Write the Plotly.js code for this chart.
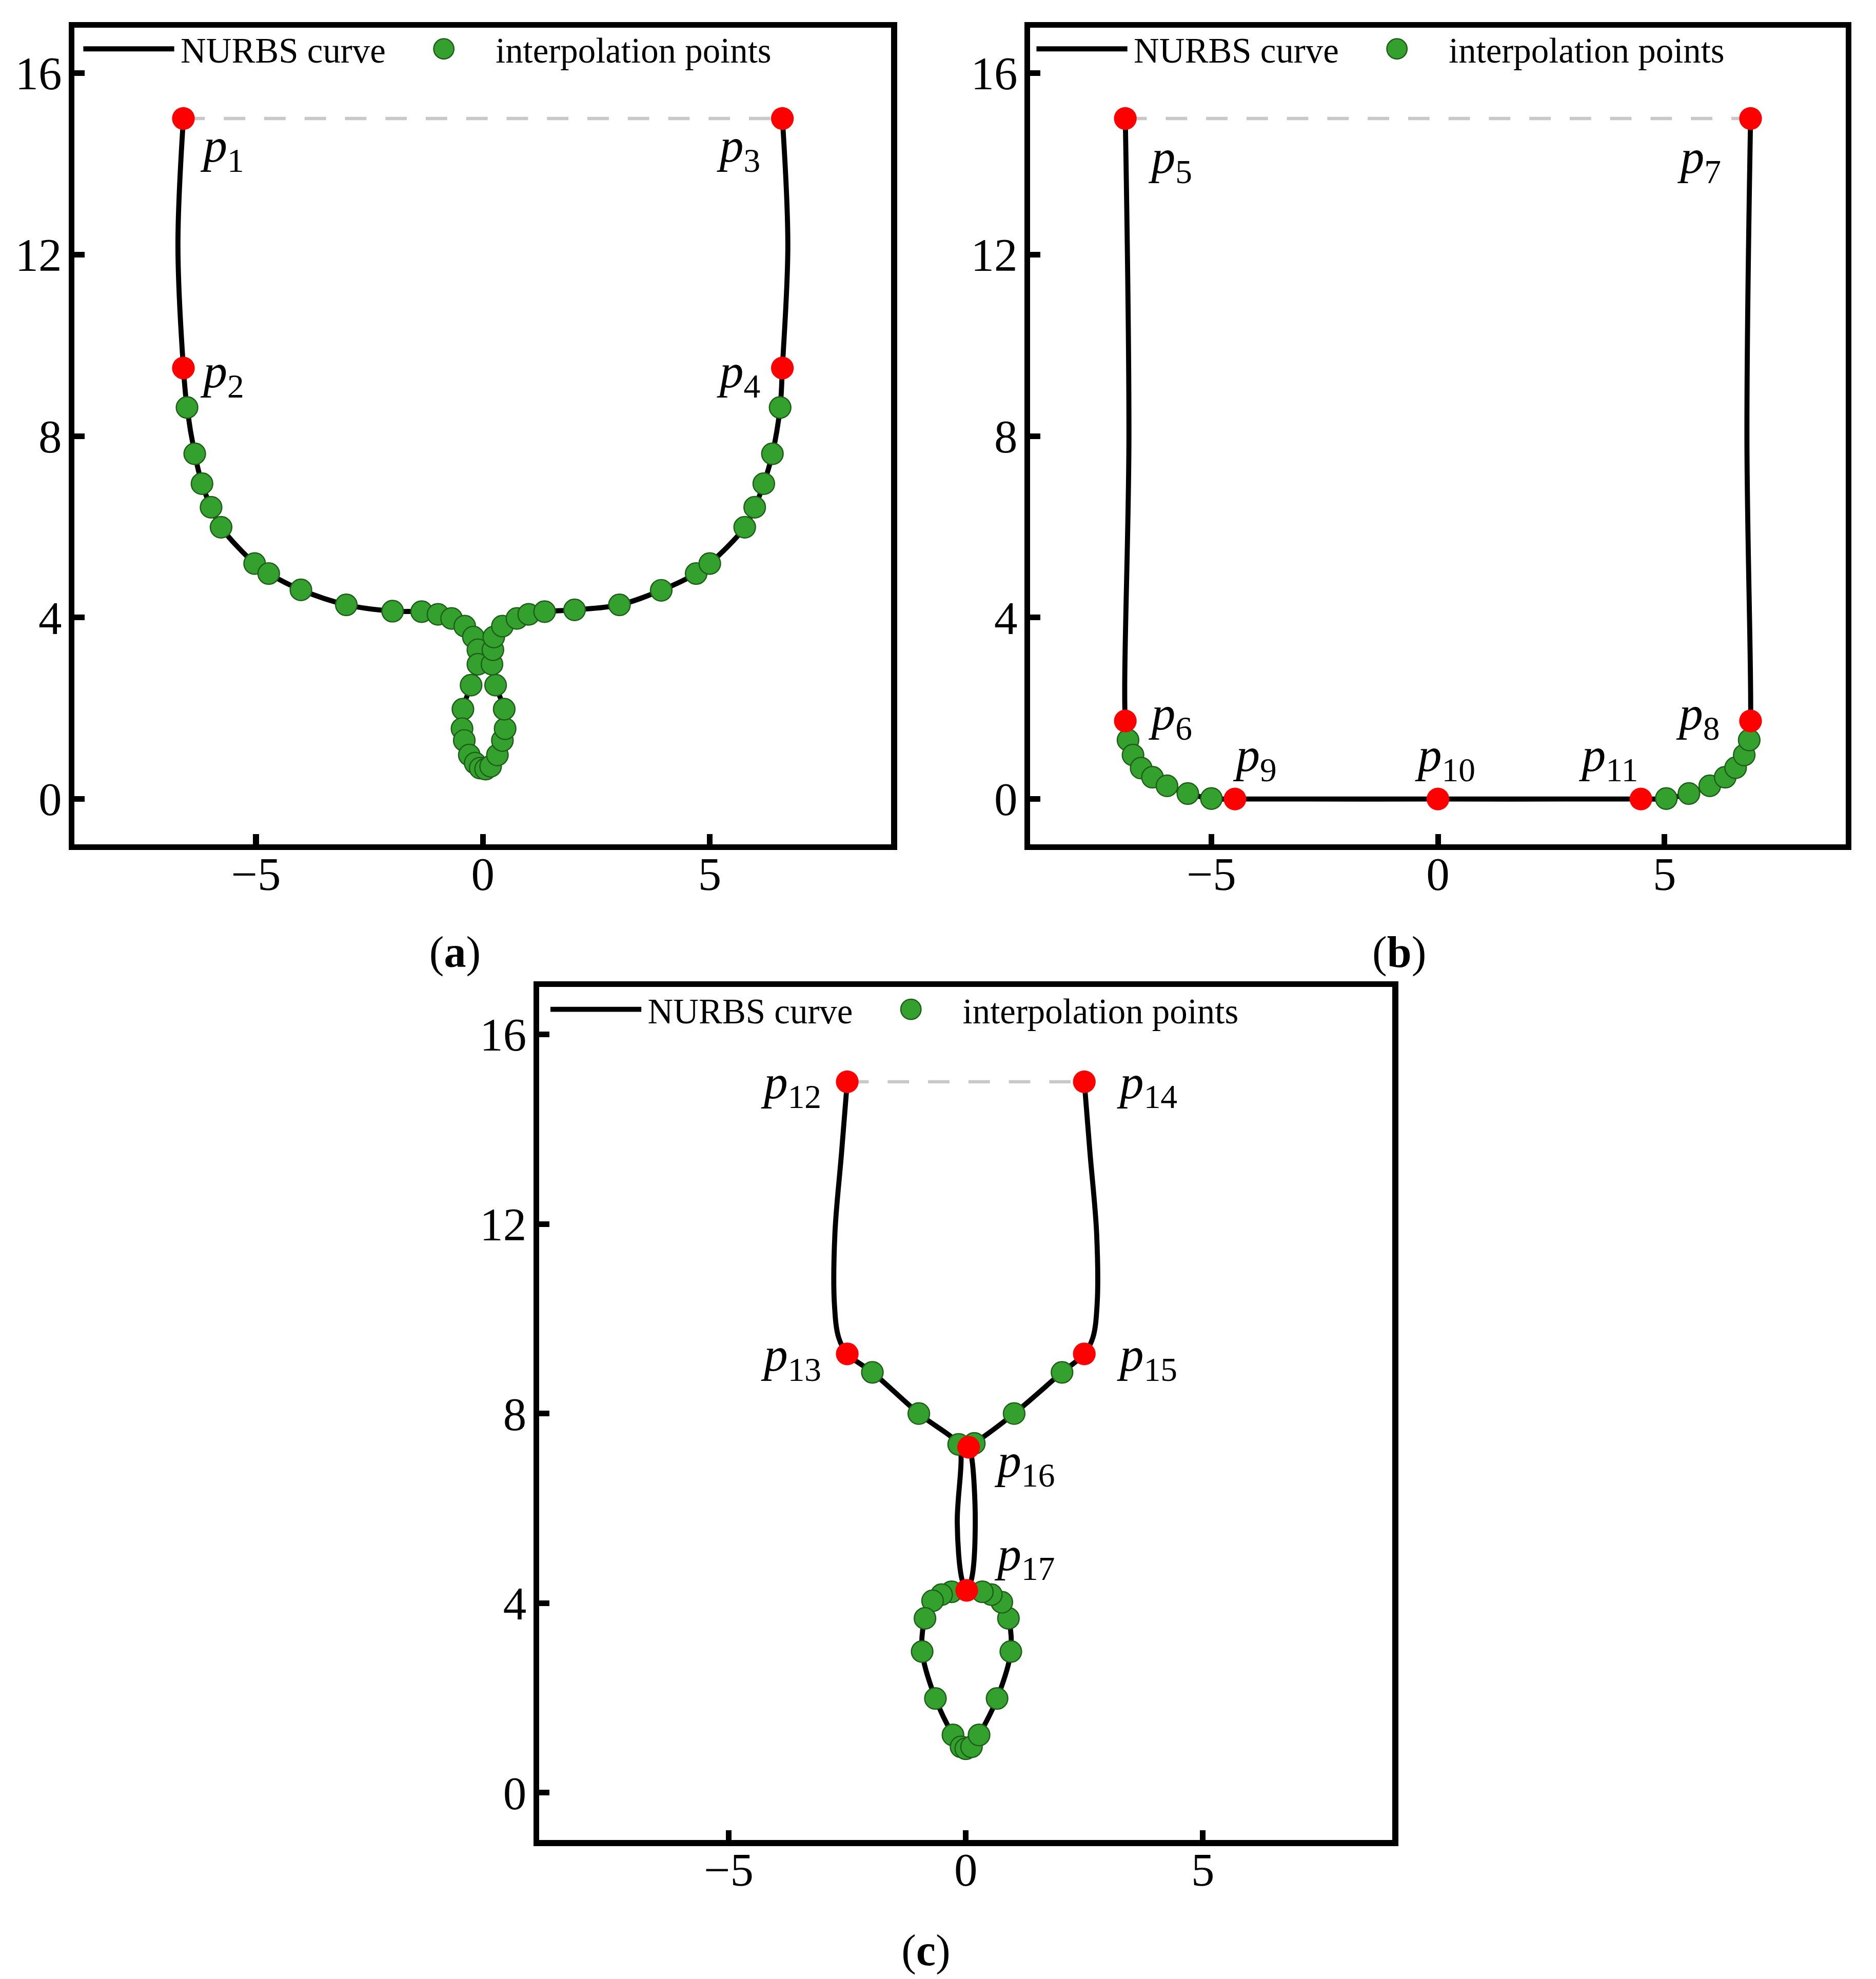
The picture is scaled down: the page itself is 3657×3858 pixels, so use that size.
<!DOCTYPE html>
<html>
<head>
<meta charset="utf-8">
<script src="https://cdn.plot.ly/plotly-3.0.1.min.js"></script>
<style>
  html, body { margin: 0; padding: 0; background: #fff; }
  html { overflow: hidden; }
  body { width: 3657px; height: 3858px; }
  #chart { width: 1486px; height: 1568px; transform-origin: 0 0; }
</style>
</head>
<body>
<div id="chart"></div>
<script>
// ---- panel (a) ----
const curveAX = [-6.6, -6.72, -6.6, -6.52, -6.35, -6.19, -5.99, -5.77, -5.03, -4.72, -4.01, -3.01, -1.99, -1.35, -0.99, -0.69, -0.40, -0.21, -0.11, -0.11, -0.26, -0.44, -0.46, -0.41, -0.30, -0.17, -0.06, 0.06, 0.17, 0.32, 0.43, 0.49, 0.47, 0.28, 0.20, 0.22, 0.24, 0.43, 0.75, 1.01, 1.36, 2.02, 3.01, 3.93, 4.70, 5.00, 5.77, 5.99, 6.19, 6.38, 6.55, 6.6, 6.72, 6.6];
const curveAY = [15, 12.2, 9.5, 8.63, 7.61, 6.95, 6.43, 5.99, 5.19, 4.97, 4.61, 4.28, 4.14, 4.13, 4.07, 3.98, 3.81, 3.57, 3.29, 2.97, 2.51, 1.98, 1.55, 1.29, 0.97, 0.79, 0.68, 0.66, 0.72, 0.97, 1.29, 1.55, 1.98, 2.51, 2.97, 3.29, 3.57, 3.81, 3.98, 4.07, 4.13, 4.17, 4.28, 4.60, 4.97, 5.19, 5.99, 6.43, 6.95, 7.61, 8.63, 9.5, 12.2, 15];
const greenAX = [-6.52, -6.35, -6.19, -5.99, -5.77, -5.03, -4.72, -4.01, -3.01, -1.99, -1.35, -0.99, -0.69, -0.40, -0.21, -0.11, -0.11, -0.26, -0.44, -0.46, -0.41, -0.30, -0.17, -0.06, 0.06, 0.17, 0.32, 0.43, 0.49, 0.47, 0.28, 0.20, 0.22, 0.24, 0.43, 0.75, 1.01, 1.36, 2.02, 3.01, 3.93, 4.70, 5.00, 5.77, 5.99, 6.19, 6.38, 6.55];
const greenAY = [8.63, 7.61, 6.95, 6.43, 5.99, 5.19, 4.97, 4.61, 4.28, 4.14, 4.13, 4.07, 3.98, 3.81, 3.57, 3.29, 2.97, 2.51, 1.98, 1.55, 1.29, 0.97, 0.79, 0.68, 0.66, 0.72, 0.97, 1.29, 1.55, 1.98, 2.51, 2.97, 3.29, 3.57, 3.81, 3.98, 4.07, 4.13, 4.17, 4.28, 4.60, 4.97, 5.19, 5.99, 6.43, 6.95, 7.61, 8.63];
const redAX = [-6.6, -6.6, 6.6, 6.6];
const redAY = [15, 9.5, 15, 9.5];
const redALabels = ["1", "2", "3", "4"];

// ---- panel (b) ----
const curveBX = [-6.9, -6.82, -6.9, -6.84, -6.73, -6.55, -6.30, -5.98, -5.52, -5.0, -4.48, 0, 4.48, 5.04, 5.54, 6.0, 6.34, 6.57, 6.76, 6.87, 6.9, 6.82, 6.9];
const curveBY = [15, 8, 1.72, 1.30, 0.97, 0.68, 0.48, 0.29, 0.12, 0.01, 0, 0, 0, 0.01, 0.12, 0.29, 0.48, 0.69, 0.97, 1.30, 1.72, 8, 15];
const greenBX = [-6.84, -6.73, -6.55, -6.30, -5.98, -5.52, -5.0, 5.04, 5.54, 6.0, 6.34, 6.57, 6.76, 6.87];
const greenBY = [1.30, 0.97, 0.68, 0.48, 0.29, 0.12, 0.01, 0.01, 0.12, 0.29, 0.48, 0.69, 0.97, 1.30];
const redBX = [-6.9, -6.9, 6.9, 6.9, -4.48, 0, 4.48];
const redBY = [15, 1.72, 15, 1.72, 0, 0, 0];
const redBLabels = ["5", "6", "7", "8", "9", "10", "11"];

// ---- panel (c) ----
const curveCX = [-2.5, -2.62, -2.76, -2.77, -2.68, -2.5, -1.97, -0.99, -0.15, -0.1, -0.18, -0.08, 0.02, -0.30, -0.51, -0.70, -0.86, -0.92, -0.64, -0.27, -0.10, 0.0, 0.12, 0.28, 0.66, 0.95, 0.90, 0.76, 0.54, 0.35, 0.02, 0.12, 0.20, 0.12, 0.06, 0.18, 1.02, 2.03, 2.5, 2.68, 2.77, 2.76, 2.62, 2.5];
const curveCY = [15, 13.5, 11.8, 10.3, 9.6, 9.26, 8.87, 8.0, 7.35, 7.1, 5.7, 4.5, 4.27, 4.24, 4.18, 4.05, 3.68, 2.98, 1.99, 1.22, 0.97, 0.93, 0.97, 1.22, 1.99, 2.98, 3.68, 4.02, 4.18, 4.24, 4.27, 4.5, 5.7, 7.1, 7.29, 7.37, 8.0, 8.87, 9.26, 9.6, 10.3, 11.8, 13.5, 15];
const greenCX = [-1.97, -0.99, -0.15, 0.18, 1.02, 2.03, -0.30, -0.51, -0.70, -0.86, -0.92, -0.64, -0.27, -0.10, 0.0, 0.12, 0.28, 0.66, 0.95, 0.90, 0.76, 0.54, 0.35];
const greenCY = [8.87, 8.0, 7.35, 7.37, 8.0, 8.87, 4.24, 4.18, 4.05, 3.68, 2.98, 1.99, 1.22, 0.97, 0.93, 0.97, 1.22, 1.99, 2.98, 3.68, 4.02, 4.18, 4.24];
const redCX = [-2.5, -2.5, 2.5, 2.5, 0.06, 0.02];
const redCY = [15, 9.26, 15, 9.26, 7.29, 4.27];
const redCLabels = ["12", "13", "14", "15", "16", "17"];

const xTicks = [-5, 0, 5];
const yTicks = [0, 4, 8, 12, 16];
const panelNames = ["a", "b", "c"];

// label offsets in px from each red point: [right, down]
const labelShiftA = [[30, 24], [30, 5], [-35, 24], [-35, 5]];
const labelShiftB = [[35, 33], [35, -3], [-41, 33], [-42, -3], [15, -32], [5, -32], [-26, -32]];
const labelShiftC = [[-45, 3], [-45, 3], [50, 3], [50, 3], [44, 13], [46, -26]];

const FONT = "'Liberation Serif', 'Times New Roman', serif";
const GREEN = "#34a12e";
const RED = "#ff0000";

function panelTraces(suffix, curveX, curveY, greenX, greenY, redX, redY) {
  const xa = "x" + suffix, ya = "y" + suffix;
  const leg = "legend" + suffix;
  return [
    {
      x: [redX[0], redX[2]], y: [redY[0], redY[2]],
      xaxis: xa, yaxis: ya, mode: "lines", showlegend: false,
      line: { color: "#c8c8c8", width: 2.6, dash: "17px,15px" }, legend: leg
    },
    {
      x: curveX, y: curveY, xaxis: xa, yaxis: ya, mode: "lines",
      name: "NURBS curve", legend: leg,
      line: { color: "#000", width: 4, shape: "spline", smoothing: 1 }
    },
    {
      x: greenX, y: greenY, xaxis: xa, yaxis: ya, mode: "markers",
      name: "interpolation points", legend: leg,
      marker: { color: GREEN, size: 17, line: { color: "#1d5e18", width: 1 } }
    },
    {
      x: redX, y: redY, xaxis: xa, yaxis: ya, mode: "markers",
      showlegend: false, legend: leg,
      marker: { color: RED, size: 18 }
    }
  ];
}

function labelAnnotations(suffix, redX, redY, labels, shifts) {
  return labels.map((n, i) => ({
    xref: "x" + suffix, yref: "y" + suffix,
    x: redX[i], y: redY[i],
    text: "<i>p</i><sub>" + n + "</sub>",
    showarrow: false, xanchor: "center", yanchor: "middle",
    xshift: shifts[i][0], yshift: -shifts[i][1],
    font: { family: FONT, size: 38, color: "#000" }
  }));
}

function xAxis(domain, anchor) {
  return {
    domain, anchor, range: [-9, 9], tickvals: xTicks,
    showgrid: false, zeroline: false, showline: true, mirror: true,
    linecolor: "#000", linewidth: 4.6, ticks: "inside", ticklen: 8, tickwidth: 4.5,
    tickcolor: "#000", ticklabelstandoff: -13,
    tickfont: { family: FONT, size: 37, color: "#000" }
  };
}
function yAxis(domain, anchor) {
  return {
    domain, anchor, range: [-1, 17], tickvals: yTicks,
    showgrid: false, zeroline: false, showline: true, mirror: true,
    linecolor: "#000", linewidth: 4.6, ticks: "inside", ticklen: 8, tickwidth: 4.5,
    tickcolor: "#000", ticklabelstandoff: -2,
    tickfont: { family: FONT, size: 37, color: "#000" }
  };
}
function legendAt(x, y) {
  return {
    x, y, xanchor: "left", yanchor: "top", orientation: "h",
    bgcolor: "rgba(0,0,0,0)", borderwidth: 0, itemwidth: 72,
    font: { family: FONT, size: 28, color: "#000" }
  };
}

const W = 1486, H = 1568;
const traces = [].concat(
  panelTraces("", curveAX, curveAY, greenAX, greenAY, redAX, redAY),
  panelTraces("2", curveBX, curveBY, greenBX, greenBY, redBX, redBY),
  panelTraces("3", curveCX, curveCY, greenCX, greenCY, redCX, redCY)
);

const panelLabelPos = [[360, 754], [1108, 754], [733, 1545]];
const annotations = [].concat(
  labelAnnotations("", redAX, redAY, redALabels, labelShiftA),
  labelAnnotations("2", redBX, redBY, redBLabels, labelShiftB),
  labelAnnotations("3", redCX, redCY, redCLabels, labelShiftC),
  panelNames.map((n, i) => ({
    xref: "paper", yref: "paper",
    x: panelLabelPos[i][0] / W, y: 1 - panelLabelPos[i][1] / H,
    xanchor: "center", yanchor: "middle",
    text: "(<b>" + n + "</b>)", showarrow: false,
    font: { family: FONT, size: 35, color: "#000" }
  }))
);

const layout = {
  width: W, height: H,
  margin: { l: 0, r: 0, t: 0, b: 0 },
  paper_bgcolor: "#fff", plot_bgcolor: "#fff",
  font: { family: FONT, color: "#000" },
  xaxis: xAxis([59 / W, 706 / W], "y"),
  yaxis: yAxis([1 - 669 / H, 1 - 22 / H], "x"),
  xaxis2: xAxis([816 / W, 1462 / W], "y2"),
  yaxis2: yAxis([1 - 669 / H, 1 - 22 / H], "x2"),
  xaxis3: xAxis([427 / W, 1103 / W], "y3"),
  yaxis3: yAxis([1 - 1458 / H, 1 - 782 / H], "x3"),
  legend: legendAt(61 / W, 1 - 14 / H),
  legend2: legendAt(816 / W, 1 - 14 / H),
  legend3: legendAt(431 / W, 1 - 775 / H),
  annotations
};

const el = document.getElementById("chart");
el.style.transform = "scale(" + (3657 / W) + "," + (3858 / H) + ")";
Plotly.newPlot(el, traces, layout, { staticPlot: true, displayModeBar: false });
</script>
</body>
</html>
